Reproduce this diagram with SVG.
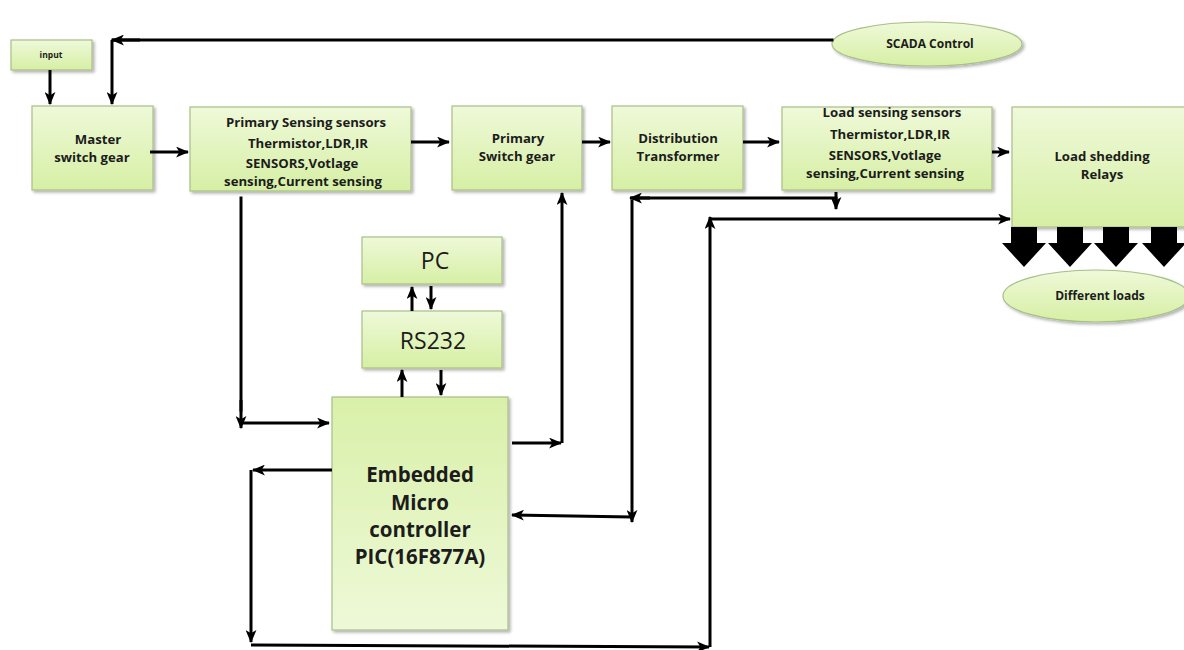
<svg xmlns="http://www.w3.org/2000/svg" width="1184" height="650" viewBox="0 0 1184 650">
<defs>
<linearGradient id="g" x1="0" y1="0" x2="0" y2="1">
<stop offset="0" stop-color="#eff9d9"/>
<stop offset="1" stop-color="#d6efa4"/>
</linearGradient>
<linearGradient id="g2" x1="0" y1="0" x2="0" y2="1">
<stop offset="0" stop-color="#d9f0a9"/>
<stop offset="1" stop-color="#eef9d8"/>
</linearGradient>
<filter id="sh" x="-10%" y="-10%" width="130%" height="130%">
<feDropShadow dx="2" dy="2" stdDeviation="1.5" flood-color="#000" flood-opacity="0.3"/>
</filter>
<marker id="ah" markerUnits="userSpaceOnUse" viewBox="0 0 12 10" markerWidth="13" markerHeight="11" refX="11" refY="5" orient="auto">
<path d="M0,0 L12,5 L0,10 L3,5 z" fill="#000"/>
</marker>
</defs>
<style>
.box{fill:url(#g);stroke:#a8bf88;stroke-width:1.2;filter:url(#sh)}
.t{font-family:"Open Sans",Lato,sans-serif;font-weight:bold;fill:#1c1c1c;text-anchor:middle}
.t13{font-size:13.2px}
.big{font-family:"Open Sans",Lato,sans-serif;font-weight:normal;font-size:23px;fill:#1c1c1c;text-anchor:middle}
.c{fill:none;stroke:#000;stroke-width:3;stroke-linecap:square}
.ca{fill:none;stroke:#000;stroke-width:3;marker-end:url(#ah)}
</style>
<rect width="1184" height="650" fill="#fff"/>

<g id="input"><rect class="box" x="11" y="40" width="81" height="30"/><text class="t" x="51" y="58" font-size="8.5">input</text></g>
<g id="master"><rect class="box" x="32" y="106" width="121" height="84"/><text class="t t13" x="98" y="144">Master</text><text class="t t13" x="92" y="162">switch gear</text></g>
<g id="primary-sensing"><rect class="box" x="190" y="107" width="221" height="84"/>
<text class="t t13" x="306" y="127">Primary Sensing sensors</text>
<text class="t t13" x="308" y="148">Thermistor,LDR,IR</text>
<text class="t t13" x="302" y="168">SENSORS,Votlage</text>
<text class="t t13" x="303" y="186">sensing,Current sensing</text></g>
<g id="primary-switch"><rect class="box" x="452" y="106" width="130" height="84"/><text class="t t13" x="518" y="143">Primary</text><text class="t t13" x="517" y="161">Switch gear</text></g>
<g id="distribution"><rect class="box" x="612" y="106" width="131" height="84"/><text class="t t13" x="678" y="143">Distribution</text><text class="t t13" x="678" y="161">Transformer</text></g>
<g id="load-sensing"><rect class="box" x="782" y="107" width="210" height="83"/>
<text class="t t13" x="892" y="117">Load sensing sensors</text>
<text class="t t13" x="890" y="139">Thermistor,LDR,IR</text>
<text class="t t13" x="885" y="160">SENSORS,Votlage</text>
<text class="t t13" x="885" y="178">sensing,Current sensing</text></g>
<g id="load-shedding"><rect class="box" x="1012" y="107" width="180" height="120"/><text class="t t13" x="1102" y="161">Load shedding</text><text class="t t13" x="1102" y="179">Relays</text></g>
<g id="scada"><ellipse class="box" cx="927" cy="44" rx="95" ry="22"/><text class="t" x="930" y="48" font-size="12">SCADA Control</text></g>
<g id="loads"><ellipse class="box" cx="1096" cy="296" rx="93" ry="26"/><text class="t" x="1100" y="300" font-size="12">Different  loads</text></g>
<g id="pc"><rect class="box" x="362" y="237" width="140" height="47"/><text class="big" x="435" y="269">PC</text></g>
<g id="rs232"><rect class="box" x="362" y="311" width="140" height="57"/><text class="big" x="433" y="349">RS232</text></g>
<g id="mcu"><rect class="box" x="332" y="397" width="176" height="233" style="fill:url(#g2)"/>
<text class="t" x="420" y="482" font-size="20.5">Embedded</text>
<text class="t" x="420" y="510" font-size="20.5">Micro</text>
<text class="t" x="420" y="537" font-size="20.5">controller</text>
<text class="t" x="420" y="564" font-size="20.5">PIC(16F877A)</text></g>

<g id="relay-arrows" fill="#000">
<path d="M1011,227 H1037 V243 H1046 L1024,267 L1002,243 H1011 Z"/>
<path d="M1057,227 H1083 V243 H1092 L1070,267 L1048,243 H1057 Z"/>
<path d="M1103,227 H1129 V243 H1138 L1116,267 L1094,243 H1103 Z"/>
<path d="M1151,227 H1177 V243 H1186 L1164,267 L1142,243 H1151 Z"/>
</g>

<g id="connectors">
<line class="c" x1="832" y1="40" x2="113" y2="40"/>
<line class="ca" x1="140" y1="40" x2="112" y2="40"/>
<line class="ca" x1="112" y1="40" x2="112" y2="104"/>
<line class="ca" x1="50" y1="70" x2="50" y2="104"/>
<line class="ca" x1="150" y1="152" x2="188" y2="152"/>
<line class="ca" x1="411" y1="142" x2="449" y2="142"/>
<line class="ca" x1="582" y1="142" x2="610" y2="142"/>
<line class="ca" x1="743" y1="142" x2="779" y2="142"/>
<line class="ca" x1="992" y1="152" x2="1009" y2="152"/>

<line class="c" x1="241" y1="198" x2="241" y2="410"/>
<line class="ca" x1="241" y1="400" x2="241" y2="428"/>
<line class="ca" x1="241" y1="423" x2="329" y2="423"/>

<line class="ca" x1="512" y1="443" x2="561" y2="443"/>
<line class="ca" x1="562" y1="443" x2="562" y2="193"/>

<line class="ca" x1="412" y1="311" x2="412" y2="287"/>
<line class="ca" x1="431" y1="286" x2="431" y2="309"/>
<line class="ca" x1="402" y1="397" x2="402" y2="370"/>
<line class="ca" x1="441" y1="370" x2="441" y2="395"/>

<line class="ca" x1="632" y1="200" x2="632" y2="522"/>
<line class="ca" x1="650" y1="198" x2="630" y2="198"/>
<line class="c" x1="632" y1="198" x2="836" y2="198"/>
<line class="ca" x1="836" y1="192" x2="836" y2="209"/>
<line class="ca" x1="632" y1="517" x2="512" y2="515"/>

<line class="ca" x1="332" y1="470" x2="253" y2="470"/>
<line class="ca" x1="251" y1="470" x2="251" y2="642"/>
<line class="ca" x1="251" y1="645" x2="709" y2="647"/>
<line class="ca" x1="710" y1="647" x2="710" y2="217"/>
<line class="ca" x1="710" y1="219" x2="1010" y2="219"/>
</g>
</svg>
